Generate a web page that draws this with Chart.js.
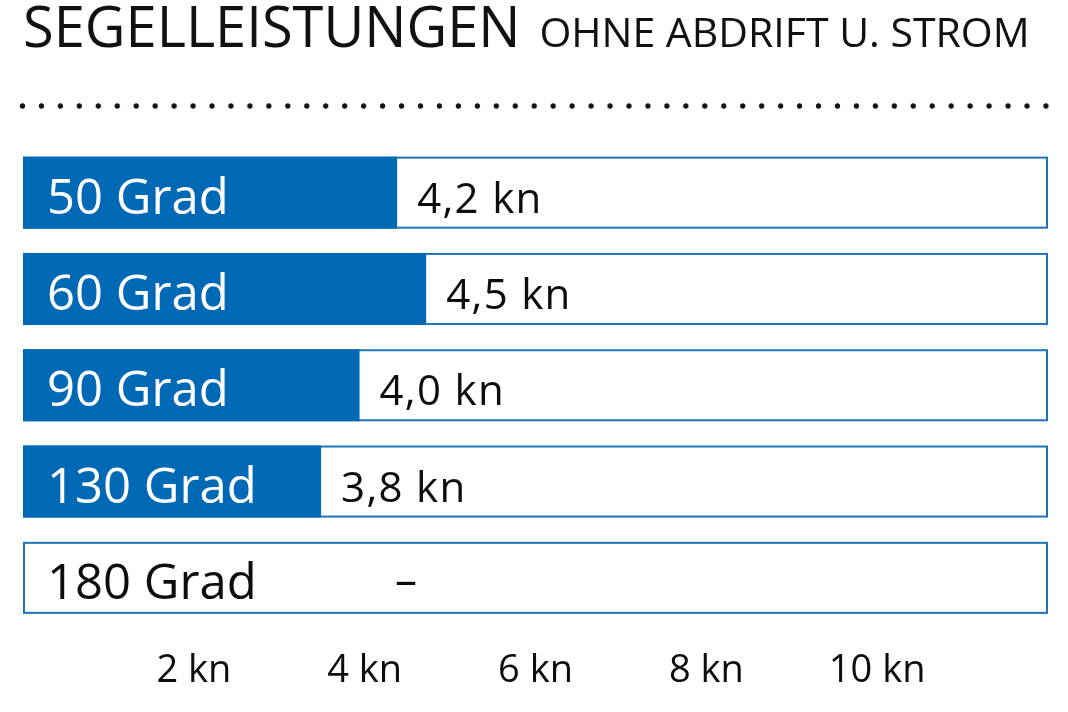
<!DOCTYPE html>
<html><head><meta charset="utf-8">
<script src="https://cdn.jsdelivr.net/npm/chart.js@4.4.1/dist/chart.umd.min.js"></script>
<style>
html,body{margin:0;padding:0;background:#fff;}
body{width:1068px;height:712px;position:relative;overflow:hidden;font-family:"Open Sans",sans-serif;color:#111;}
#c{position:absolute;left:0;top:0;}
#title{position:absolute;left:23px;top:-3px;font-size:56px;line-height:1;white-space:nowrap;}
#title .sub{font-size:41px;margin-left:19px;}
#dots{position:absolute;left:13px;top:103px;width:1043px;height:6px;background:radial-gradient(circle,#111 2.3px,rgba(0,0,0,0) 3.1px) 0 0/18.96px 6px repeat-x;}
</style></head><body>
<canvas id="c" width="1068" height="712"></canvas>
<div id="title">SEGELLEISTUNGEN<span class="sub">OHNE ABDRIFT U. STROM</span></div>
<div id="dots"></div>
<script>
// ---- data ----
const categories = ['50 Grad', '60 Grad', '90 Grad', '130 Grad', '180 Grad'];
const speedLabels = ['4,2 kn', '4,5 kn', '4,0 kn', '3,8 kn', '–'];
const barValues = [4.38, 4.72, 3.94, 3.49, null];   // bar lengths as drawn (kn)
const tickValues = [2, 4, 6, 8, 10];
const axisMin = 0;
const axisMax = 12;

// ---- styles ----
const BLUE = '#0069b5';
const FRAME = '#1f74b9';
const INK = '#0d0d0d';
const FONT = '"Open Sans", sans-serif';

const labelPlugin = {
  id: 'framesAndLabels',
  beforeDatasetsDraw(chart) {
    const { ctx, chartArea, scales } = chart;
    const meta = chart.getDatasetMeta(0);
    ctx.save();
    categories.forEach((c, i) => {
      const cy = scales.y.getPixelForValue(i);
      const h = meta.data[i].height;
      ctx.fillStyle = '#fff';
      ctx.fillRect(chartArea.left, cy - h / 2, chartArea.right - chartArea.left, h);
      ctx.strokeStyle = FRAME;
      ctx.lineWidth = 2;
      ctx.strokeRect(chartArea.left + 1, cy - h / 2 + 1, chartArea.right - chartArea.left - 2, h - 2);
    });
    ctx.restore();
  },
  afterDatasetsDraw(chart) {
    const { ctx, chartArea, scales } = chart;
    ctx.save();
    ctx.textAlign = 'left';
    ctx.textBaseline = 'alphabetic';
    categories.forEach((c, i) => {
      const cy = scales.y.getPixelForValue(i);
      const filled = barValues[i] !== null && barValues[i] !== undefined;
      // category label
      ctx.font = '49px ' + FONT;
      ctx.fillStyle = filled ? '#ffffff' : INK;
      try { ctx.letterSpacing = '0px'; } catch (e) {}
      ctx.fillText(c, chartArea.left + 24, cy + 21);
      // value label
      ctx.fillStyle = INK;
      if (filled) {
        ctx.font = '42px ' + FONT;
        try { ctx.letterSpacing = '1.3px'; } catch (e) {}
        ctx.fillText(speedLabels[i], scales.x.getPixelForValue(barValues[i]) + 20, cy + 20);
      } else {
        try { ctx.letterSpacing = '0px'; } catch (e) {}
        ctx.font = '44px ' + FONT;
        ctx.fillText(speedLabels[i], chartArea.left + 372, cy + 17);
      }
    });
    ctx.restore();
  }
};

new Chart(document.getElementById('c'), {
  type: 'bar',
  data: {
    labels: categories,
    datasets: [{
      data: barValues,
      backgroundColor: BLUE,
      borderWidth: 0,
      barPercentage: 0.748,
      categoryPercentage: 1
    }]
  },
  options: {
    indexAxis: 'y',
    responsive: false,
    animation: false,
    devicePixelRatio: 1,
    layout: { padding: { left: 23, right: 20, top: 144.5, bottom: 0 } },
    plugins: { legend: { display: false }, tooltip: { enabled: false }, title: { display: false } },
    scales: {
      y: { type: 'category', display: false },
      x: {
        type: 'linear',
        min: axisMin,
        max: axisMax,
        grid: { display: false, drawTicks: false },
        border: { display: false },
        afterBuildTicks(scale) { scale.ticks = tickValues.map(v => ({ value: v })); },
        afterFit(scale) { scale.height = 86; },
        ticks: {
          padding: 22,
          color: INK,
          font: { family: FONT, size: 38, lineHeight: 1.2 },
          maxRotation: 0,
          autoSkip: false,
          callback: (v) => v + ' kn'
        }
      }
    }
  },
  plugins: [labelPlugin]
});
</script>
</body></html>
